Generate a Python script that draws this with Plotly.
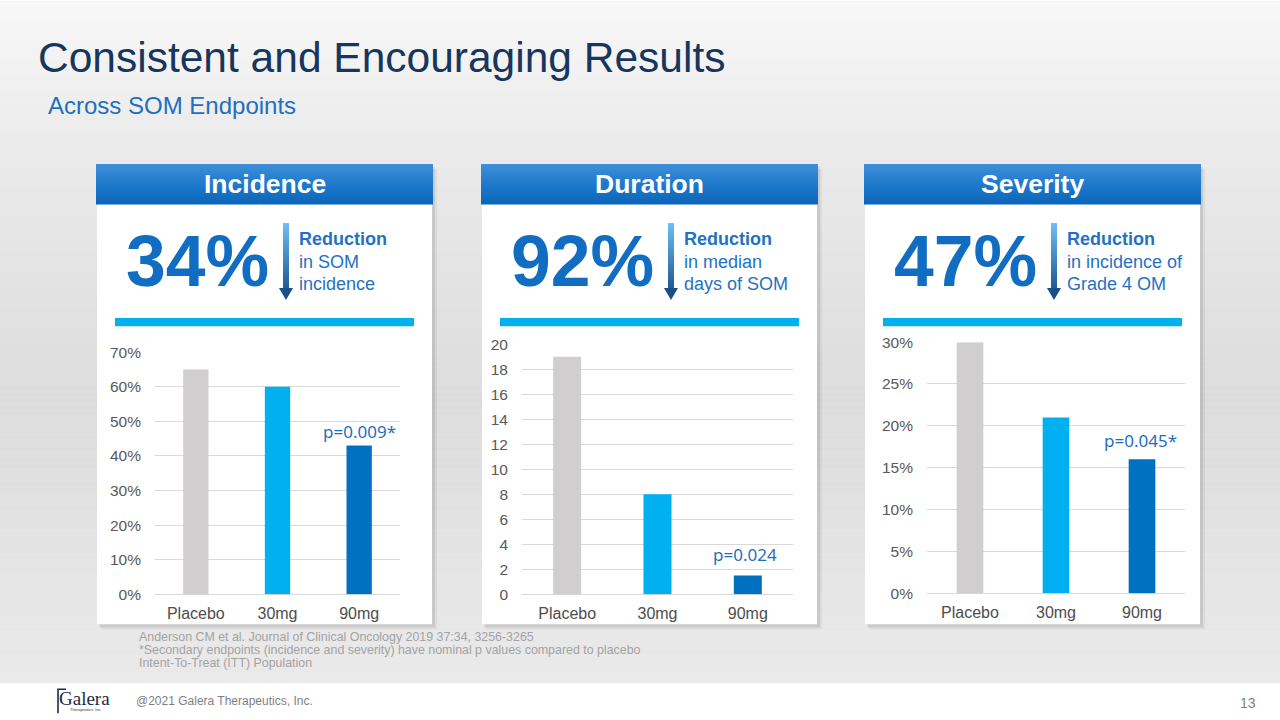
import plotly.graph_objects as go

# ---------------- data ----------------
categories = ["Placebo", "30mg", "90mg"]
incidence_pct = [65, 60, 43]
duration_days = [19, 8, 1.5]
severity_pct = [30, 21, 16]
bar_colors = ["#d0cece", "#00b0f0", "#0070c0"]

panel_titles = ["Incidence", "Duration", "Severity"]
headline_values = ["34%", "92%", "47%"]
headline_lines = [
    ["Reduction", "in SOM", "incidence"],
    ["Reduction", "in median", "days of SOM"],
    ["Reduction", "in incidence of", "Grade 4 OM"],
]
p_labels = ["p=0.009*", "p=0.024", "p=0.045*"]
y_max = [70, 20, 30]
y_dtick = [10, 2, 5]
y_suffix = ["%", "", "%"]

title = "Consistent and Encouraging Results"
subtitle = "Across SOM Endpoints"
footnotes = [
    "Anderson CM et al. Journal of Clinical Oncology 2019 37:34, 3256-3265",
    "*Secondary endpoints (incidence and severity) have nominal p values compared to placebo",
    "Intent-To-Treat (ITT) Population",
]
copyright_text = "@2021 Galera Therapeutics, Inc."
page_number = "13"

series = [incidence_pct, duration_days, severity_pct]

# ---------------- layout helpers ----------------
W, H = 1280, 720
FONT = "Liberation Sans, Arial, sans-serif"
# the captured page shows the figure offset by 8 px and slightly squeezed vertically;
# target positions (in screen pixels) are converted back to figure pixels
V_OFF, V_SCALE = 8.0, 0.976


def X(px):
    return px / W


def Y(py):
    return 1 - ((py - V_OFF) / V_SCALE) / H


def hex2rgb(h):
    h = h.lstrip("#")
    return tuple(int(h[i:i + 2], 16) for i in (0, 2, 4))


def mix(c1, c2, t):
    a, b = hex2rgb(c1), hex2rgb(c2)
    return "rgb(%d,%d,%d)" % tuple(round(a[i] + (b[i] - a[i]) * t) for i in range(3))


shapes = []
annotations = []


def rect(x0, y0, x1, y1, color, layer="below"):
    shapes.append(dict(type="rect", xref="paper", yref="paper",
                       x0=X(x0), x1=X(x1), y0=Y(y1), y1=Y(y0),
                       fillcolor=color, line=dict(width=0), layer=layer))


def vgradient(x0, y0, x1, y1, stops, step=2):
    y = y0
    while y < y1:
        yy = min(y + step, y1)
        mid = (y + yy) / 2
        for (pa, ca), (pb, cb) in zip(stops[:-1], stops[1:]):
            if pa <= mid <= pb:
                col = mix(ca, cb, (mid - pa) / (pb - pa) if pb > pa else 0)
                break
        else:
            col = stops[-1][1]
        rect(x0, y, x1, yy + 0.5, col)
        y = yy


def text(x, y, s, size, color, xanchor="left", bold=False, family=FONT, yanchor="middle"):
    annotations.append(dict(xref="paper", yref="paper", x=X(x), y=Y(y),
                            text=("<b>%s</b>" % s) if bold else s, showarrow=False,
                            xanchor=xanchor, yanchor=yanchor,
                            font=dict(family=family, size=size, color=color)))


# background
vgradient(0, 0, W, 682, [(0, "#f8f8f8"), (140, "#ebebeb"), (400, "#dcdcdc"), (682, "#eaeaea")], step=6)
rect(0, 682, W, 740, "#ffffff")

# title
text(36, 56, title, 42.5, "#17365d")
text(46, 104, subtitle, 24, "#1f6fbf")

# panels
panel_left = [97, 482, 865]
panel_right = [432, 817, 1200]
plot_x = [(155, 400), (522, 793), (927, 1185)]
plot_y = [(351, 593), (343, 593), (341, 592)]

for i in range(3):
    L, R = panel_left[i], panel_right[i]
    rect(L + 4, 168, R + 5, 628, "rgba(0,0,0,0.05)")
    rect(L + 2, 166, R + 3, 626, "rgba(0,0,0,0.08)")
    rect(L, 200, R, 623, "#ffffff")
    vgradient(L - 1, 163, R + 1, 203, [(163, "#3f8fd9"), (183, "#1f79cc"), (203, "#0b66ba")], step=2)
    text((L + R) / 2, 183, panel_titles[i], 26.5, "#ffffff", xanchor="center", bold=True)
    text(L + 27, 260, headline_values[i], 71.5, "#106dc2", bold=True)
    ax = L + 189
    vgradient(ax - 3, 222, ax + 3, 288, [(222, "#6cbcf4"), (288, "#1b5592")], step=2)
    shapes.append(dict(type="path", xref="paper", yref="paper",
                       path="M %f %f L %f %f L %f %f Z" % (X(ax - 7), Y(287), X(ax + 7), Y(287), X(ax), Y(299)),
                       fillcolor="#1a4e88", line=dict(width=0), layer="below"))
    lines = headline_lines[i]
    text(L + 200, 238, lines[0], 18, "#1f72c4", bold=True)
    text(L + 200, 261, lines[1], 18, "#1f72c4")
    text(L + 200, 283, lines[2], 18, "#1f72c4")
    rect(L + 18, 317, L + 317, 325, "#00b0f0")

# footnotes
for k, s in enumerate(footnotes):
    text(137, 636 + k * 13, s, 12.4, "#a3a3a3")

# footer
text(134, 700, copyright_text, 12, "#7f7f7f")
text(1248, 702, page_number, 14, "#7f7f7f", xanchor="center")

# logo
text(84, 697, "Galera", 19, "#1d2b46", xanchor="center", family="Liberation Serif, DejaVu Serif, serif")
text(85, 708.5, "Therapeutics, Inc", 4, "#1d2b46", xanchor="center")
shapes.append(dict(type="path", xref="paper", yref="paper",
                   path="M %f %f L %f %f L %f %f" % (X(66), Y(688), X(58), Y(688), X(58), Y(712)),
                   line=dict(color="#1d2b46", width=1.6), layer="above"))

# ---------------- charts ----------------
fig = go.Figure()
for i in range(3):
    xa = "x" if i == 0 else "x%d" % (i + 1)
    ya = "y" if i == 0 else "y%d" % (i + 1)
    fig.add_trace(go.Bar(x=categories, y=series[i], marker=dict(color=bar_colors, line=dict(width=0)),
                         width=0.31, xaxis=xa, yaxis=ya, showlegend=False, hoverinfo="x+y"))
    (x0, x1), (y0, y1) = plot_x[i], plot_y[i]
    xkey = "xaxis" if i == 0 else "xaxis%d" % (i + 1)
    ykey = "yaxis" if i == 0 else "yaxis%d" % (i + 1)
    fig.update_layout(**{
        xkey: dict(domain=[X(x0), X(x1)], anchor=ya, showgrid=False, zeroline=False, showline=False,
                   ticks="", tickfont=dict(family=FONT, size=16, color="#4d4d4d"), ticklabelstandoff=8,
                   fixedrange=True),
        ykey: dict(domain=[Y(y1), Y(y0)], anchor=xa, range=[0, y_max[i]], dtick=y_dtick[i],
                   ticksuffix=y_suffix[i], showgrid=True, gridcolor="#d9d9d9", gridwidth=1,
                   zeroline=True, zerolinecolor="#d9d9d9", zerolinewidth=1, showline=False,
                   ticks="", tickfont=dict(family=FONT, size=15.5, color="#595959"),
                   ticklabelstandoff=13, fixedrange=True),
    })
    annotations.append(dict(xref=xa, yref=ya, x=categories[2], y=series[i][2], text=p_labels[i],
                            showarrow=False, yanchor="bottom", yshift=[1, 7, 5][i], xshift=[0, -3, -2][i],
                            font=dict(family="Noto Sans, sans-serif", size=17, color="#1f6fbf")))

fig.update_layout(width=W, height=H, autosize=False, margin=dict(l=0, r=0, t=0, b=0),
                  paper_bgcolor="#ffffff", plot_bgcolor="rgba(0,0,0,0)",
                  shapes=shapes, annotations=annotations, bargap=0.69, showlegend=False)

fig.write_html("out.html")
